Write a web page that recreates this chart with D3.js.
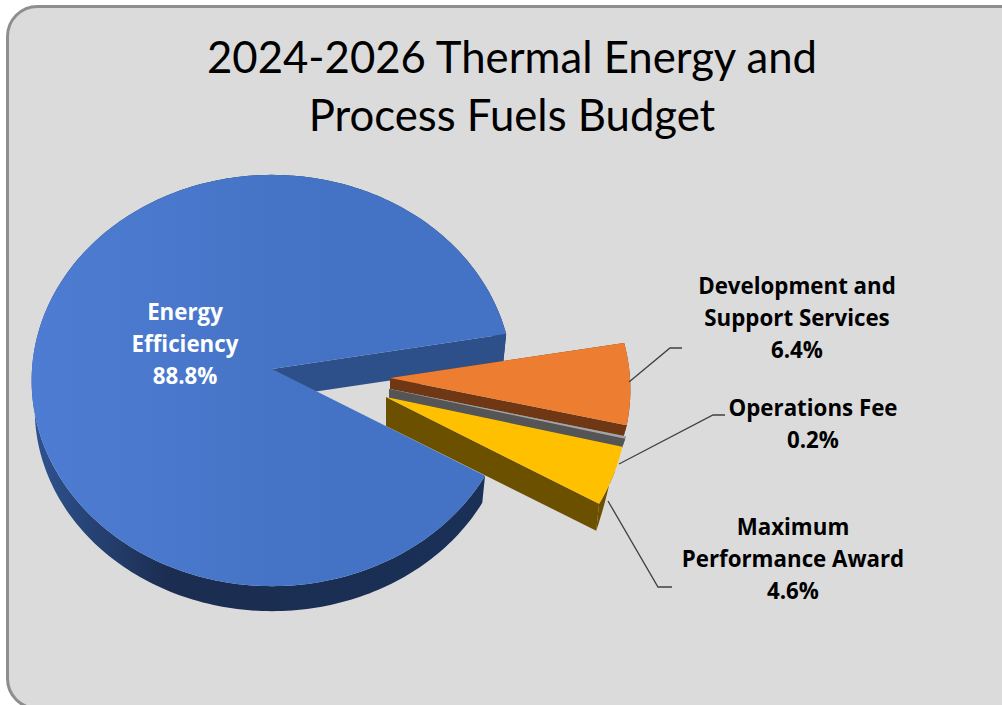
<!DOCTYPE html>
<html>
<head>
<meta charset="utf-8">
<script src="https://cdn.jsdelivr.net/npm/d3@7"></script>
<style>
  html, body { margin: 0; padding: 0; background: #fff; overflow: hidden; }
  svg { display: block; }
  .title { font-family: Lato, sans-serif; font-size: 43.7px; fill: #000; text-anchor: middle; }
  .label { font-family: "Open Sans", sans-serif; font-size: 22.3px; font-weight: 700; text-anchor: middle; }
  .leader { fill: none; stroke: #404040; stroke-width: 1.3; }
</style>
</head>
<body>
<div id="chart"></div>
<script>
// data
const categories = ['Energy Efficiency', 'Development and Support Services', 'Operations Fee', 'Maximum Performance Award'];
const shares = [88.8, 6.4, 0.2, 4.6];
const titleLines = ['2024-2026 Thermal Energy and', 'Process Fuels Budget'];
const labelLines = [['Energy', 'Efficiency', '88.8%'], ['Development and', 'Support Services', '6.4%'], ['Operations Fee', '0.2%'], ['Maximum', 'Performance Award', '4.6%']];

const topColors = ['url(#blue-top)', '#ed7d31', '#a5a5a5', '#ffc000'];
const sideColors = ['#264478', '#6f3713', '#555555', '#6b5000'];
const labelColors = ['#fff', '#000', '#000', '#000'];

const WIDTH = 1002;
const HEIGHT = 705;

// pie geometry
const CX = 272;
const CY = 369;
const RX = 240;
const KY = 205;
const PERSP = 0.056;
const BOTTOM_SHRINK = 0.987; // the underside looks a bit narrower
const START = 120.4 * Math.PI / 180;

// top-left corner of each slice on screen (the small slices are pulled out)
const apexes = [[CX, CY], [390, 378], [389, 389], [386, 397]];

// the neighbours hide most of the small slices' walls
const wallHeights = [null, 11, 9, null];
// share of the arc where the outer wall doesn't show yet
const wallFade = [0, 0, 0, 0.4];

const labelPos = [[185, 322], [797, 296], [813, 418], [793, 537]];
const LINE_H = 32;

const leaderPts = [null, [[629, 382], [670, 348], [682, 348]], [[619, 464], [713, 415], [725, 415]], [[608, 501], [658, 587], [672, 587]]];

function flat(a) {
  return [Math.sin(a), -Math.cos(a)];
}

// unit circle on the table -> offset on screen
function project(a) {
  const [u, v] = flat(a);
  const s = 1 / (1 - PERSP * v);
  return { x: RX * u * s, y: KY * v * s, v };
}

function depth(v, i) {
  return wallHeights[i] === null ? 29 - 4 * v : wallHeights[i];
}

const pie = d3.pie().sort(null).startAngle(START).endAngle(START + 2 * Math.PI);
const arcs = pie(shares);

const line = d3.line();

function arcPoints(d, i) {
  const [ax, ay] = apexes[i];
  const steps = Math.max(2, Math.ceil((d.endAngle - d.startAngle) / 0.02));
  return d3.range(steps + 1).map(k => {
    const p = project(d.startAngle + (d.endAngle - d.startAngle) * k / steps);
    return { x: ax + p.x, y: ay + p.y, v: p.v, t: k / steps };
  });
}

const svg = d3.select('#chart').append('svg').attr('width', WIDTH).attr('height', HEIGHT);

const defs = svg.append('defs');
const blueSide = defs.append('linearGradient').attr('id', 'blue-side')
  .attr('gradientUnits', 'userSpaceOnUse')
  .attr('x1', 32).attr('x2', 490).attr('y1', 0).attr('y2', 0);
blueSide.append('stop').attr('offset', 0).attr('stop-color', '#2f5391');
blueSide.append('stop').attr('offset', 0.3).attr('stop-color', '#1b2d50');
blueSide.append('stop').attr('offset', 1).attr('stop-color', '#1a3057');

const blueTop = defs.append('linearGradient').attr('id', 'blue-top')
  .attr('gradientUnits', 'userSpaceOnUse')
  .attr('x1', 32).attr('x2', 510).attr('y1', 0).attr('y2', 0);
blueTop.append('stop').attr('offset', 0).attr('stop-color', '#4d7cd2');
blueTop.append('stop').attr('offset', 0.6).attr('stop-color', '#4473c5');
blueTop.append('stop').attr('offset', 1).attr('stop-color', '#4472c4');

// chart area
svg.append('rect')
  .attr('x', 7.5).attr('y', 6.5)
  .attr('width', WIDTH + 40).attr('height', 702)
  .attr('rx', 30).attr('ry', 30)
  .attr('fill', '#dbdbdb')
  .attr('stroke', '#8e8e8e')
  .attr('stroke-width', 3);

const $slices = svg.append('g').attr('class', 'g-vis');

arcs.forEach((d, i) => {
  const pts = arcPoints(d, i);
  const [ax, ay] = apexes[i];
  const $g = $slices.append('g').attr('class', 'slice');
  const last = pts[pts.length - 1];
  const d0 = depth(0, i);
  const underX = x => ax + (x - ax) * BOTTOM_SHRINK;

  // outer wall
  const upper = pts.map(p => [p.x, p.y]);
  const lower = pts.map(p => {
    const fade = wallFade[i] ? Math.max(0, (p.t - wallFade[i]) / (1 - wallFade[i])) : 1;
    return [fade ? underX(p.x) : p.x, p.y + depth(p.v, i) * fade];
  }).reverse();
  $g.append('path')
    .attr('fill', i === 0 ? 'url(#blue-side)' : sideColors[i])
    .attr('d', line(upper.concat(lower)) + 'Z');

  // wall of the cut face turned to the viewer
  const cutEnds = i === 0 || i === 3 ? [last] : [pts[0], last];
  cutEnds.forEach(e => {
    $g.append('path')
      .attr('fill', i === 0 ? '#2d4f8a' : sideColors[i])
      .attr('d', line([[ax, ay], [e.x, e.y], [underX(e.x), e.y + depth(e.v, i)], [ax, ay + d0]]) + 'Z');
  });

  // top
  $g.append('path')
    .attr('fill', topColors[i])
    .attr('d', line([[ax, ay]].concat(upper)) + 'Z');
});

// leaders
leaderPts.forEach(pts => {
  if (!pts) return;
  svg.append('path').attr('class', 'leader').attr('d', line(pts));
});

// title
svg.append('g').selectAll('text').data(titleLines).join('text')
  .attr('class', 'title')
  .attr('x', 512)
  .attr('y', (d, i) => 73 + i * 58)
  .text(d => d);

// labels
labelLines.forEach((lines, i) => {
  svg.append('g').selectAll('text').data(lines).join('text')
    .attr('class', 'label')
    .attr('fill', labelColors[i])
    .attr('x', labelPos[i][0])
    .attr('y', (d, k) => labelPos[i][1] - 2 + k * LINE_H)
    .text(d => d);
});
</script>
</body>
</html>
